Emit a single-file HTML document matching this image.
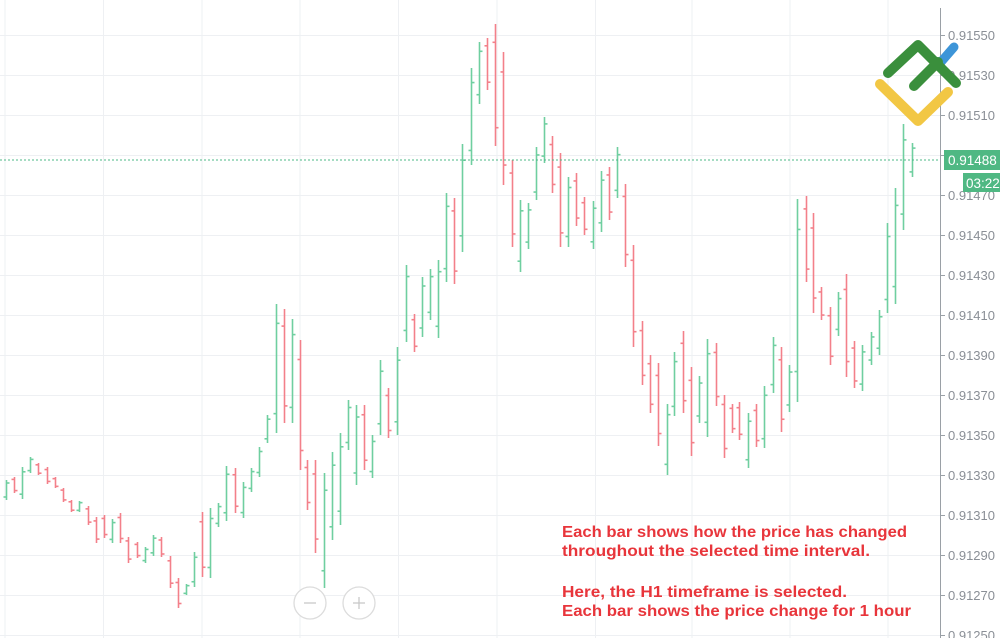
<!DOCTYPE html>
<html><head><meta charset="utf-8"><style>
html,body{margin:0;padding:0;background:#fff;}
svg{display:block;}
</style></head><body>
<svg id="c" width="1000" height="638" viewBox="0 0 1000 638" xmlns="http://www.w3.org/2000/svg" font-family="Liberation Sans, sans-serif">
<g id="grid" stroke="#eef0f3" stroke-width="1"></g>
<g id="bars" stroke-width="1.6"></g>
<line x1="0" y1="160" x2="940" y2="160" stroke="#4db887" stroke-width="1" stroke-dasharray="2,2"/>
<line x1="940.5" y1="8" x2="940.5" y2="638" stroke="#9aa0a6" stroke-width="1"/>
<g id="axis" fill="#8a8f96" font-size="13"></g>
<rect x="944" y="150" width="56" height="20" fill="#4fb883"/>
<text x="948" y="165" fill="#fff" font-size="13.5">0.91488</text>
<rect x="963" y="173" width="37" height="19" fill="#4fb883"/>
<text x="966" y="188" fill="#fff" font-size="13.5">03:22</text>
<g fill="none" stroke-linecap="round" stroke-linejoin="round">
<polyline points="948,92 918,121 880,84" stroke="#f2c744" stroke-width="10"/>
<line x1="941" y1="62" x2="954" y2="47" stroke="#3d95d8" stroke-width="9"/>
<polyline points="888,73 918,45 956,83" stroke="#3a8f3c" stroke-width="10"/>
<line x1="914" y1="86" x2="938" y2="62" stroke="#3a8f3c" stroke-width="10"/>
</g>
<circle cx="310" cy="603" r="16" fill="#fff" stroke="#dcdcdc" stroke-width="1.3"/>
<line x1="304" y1="603" x2="316" y2="603" stroke="#c8c8c8" stroke-width="1.3"/>
<circle cx="359" cy="603" r="16" fill="#fff" stroke="#dcdcdc" stroke-width="1.3"/>
<line x1="353" y1="603" x2="365" y2="603" stroke="#c8c8c8" stroke-width="1.3"/>
<line x1="359" y1="597" x2="359" y2="609" stroke="#c8c8c8" stroke-width="1.3"/>
<g fill="#e8353b" font-size="16" font-weight="bold">
<text x="562" y="537" textLength="345" lengthAdjust="spacingAndGlyphs">Each bar shows how the price has changed</text>
<text x="562" y="556" textLength="308" lengthAdjust="spacingAndGlyphs">throughout the selected time interval.</text>
<text x="562" y="597" textLength="285" lengthAdjust="spacingAndGlyphs">Here, the H1 timeframe is selected.</text>
<text x="562" y="616" textLength="349" lengthAdjust="spacingAndGlyphs">Each bar shows the price change for 1 hour</text>
</g>
</svg>
<script>
var NS="http://www.w3.org/2000/svg";
function el(p,t,a){var e=document.createElementNS(NS,t);for(var k in a)e.setAttribute(k,a[k]);p.appendChild(e);return e;}
var g=document.getElementById('grid');
for(var i=0;i<16;i++){var y=35+40*i;el(g,'line',{x1:0,y1:y+.5,x2:940,y2:y+.5});}
[5,103.5,202,300,398.5,497,595.5,692,790,888].forEach(function(x){el(g,'line',{x1:x,y1:0,x2:x,y2:638});});
var ax=document.getElementById('axis');
for(var i=0;i<16;i++){var y=35+40*i;var p=(0.91550-0.0002*i).toFixed(5);
el(ax,'line',{x1:940,y1:y+.5,x2:945,y2:y+.5,stroke:'#9aa0a6'});
var t=el(ax,'text',{x:948,y:y+5});t.textContent=p;}
// x, hi, lo, color(g/r)
var B=[[6,480,500,'g'],[14,477,493,'r'],[22,467,499,'g'],[30,457,473,'g'],[38,463,475,'r'],[47,467,484,'r'],[55,477,488,'r'],[63,488,502,'r'],[71,500,512,'r'],[79,501,512,'g'],[88,506,525,'r'],[96,517,543,'r'],[104,515,538,'r'],[112,519,543,'g'],[120,513,543,'r'],[128,537,563,'r'],[137,542,558,'r'],[145,547,563,'g'],[153,535,556,'g'],[161,537,557,'r'],[170,556,588,'r'],[178,578,608,'r'],[186,584,595,'g'],[194,552,587,'g'],[202,512,577,'r'],[210,508,578,'g'],[218,503,527,'g'],[226,466,521,'g'],[235,468,513,'r'],[243,482,518,'g'],[251,468,492,'g'],[259,447,477,'g'],[267,415,443,'g'],[276,304,433,'g'],[284,309,423,'r'],[292,319,423,'g'],[300,340,470,'r'],[307,460,510,'r'],[315,460,553,'r'],
[324,473,588,'g'],[332,452,540,'g'],[340,433,525,'g'],[348,400,450,'g'],[356,405,485,'g'],[364,405,470,'r'],[372,435,478,'g'],[380,360,435,'g'],[388,388,438,'r'],[397,347,435,'g'],[406,265,342,'g'],[414,314,352,'r'],[422,277,337,'g'],[430,269,320,'g'],[438,260,338,'g'],[446,193,282,'g'],[454,198,284,'r'],[462,144,252,'g'],[471,68,165,'g'],[479,42,104,'g'],[487,38,90,'r'],[495,24,146,'r'],[503,52,185,'r'],[512,160,247,'r'],[520,200,272,'g'],[528,203,249,'g'],[536,147,200,'g'],[544,117,163,'g'],[552,136,193,'r'],[560,153,247,'r'],[568,177,247,'g'],[576,173,226,'r'],[584,197,235,'r'],[593,201,249,'g'],[601,171,232,'g'],[609,167,220,'r'],[617,147,198,'g'],[625,184,267,'r'],[633,245,347,'r'],
[642,321,385,'r'],[650,355,413,'r'],[658,363,446,'r'],[667,404,475,'g'],[674,352,416,'g'],[683,331,413,'r'],[691,367,456,'r'],[699,376,423,'g'],[707,339,437,'g'],[716,343,406,'r'],[724,395,458,'r'],[732,404,433,'r'],[739,402,440,'r'],[748,413,468,'g'],[756,404,447,'r'],[764,386,448,'g'],[773,337,393,'g'],[781,347,432,'r'],[789,365,412,'g'],[797,199,402,'g'],[806,196,282,'r'],[813,213,313,'r'],[821,287,320,'r'],[830,307,365,'r'],[838,292,336,'g'],[846,274,377,'r'],[854,341,388,'r'],[862,345,391,'g'],[871,332,365,'g'],[879,310,355,'g'],[887,223,313,'g'],[895,188,304,'g'],[903,124,230,'g'],[912,143,177,'g']];
var bg=document.getElementById('bars');
B.forEach(function(b){var x=b[0]+.5,h=b[1],l=b[2],c=b[3]=='g'?'#6fcfa0':'#f3808a';
var r=l-h,o,cl;
if(b[3]=='g'){o=l-r*0.15;cl=h+r*0.15;}else{o=h+r*0.15;cl=l-r*0.15;}
el(bg,'line',{x1:x,y1:h,x2:x,y2:l,stroke:c});
el(bg,'line',{x1:x-3,y1:o,x2:x,y2:o,stroke:c});
el(bg,'line',{x1:x,y1:cl,x2:x+3,y2:cl,stroke:c});});
</script>
</body></html>
